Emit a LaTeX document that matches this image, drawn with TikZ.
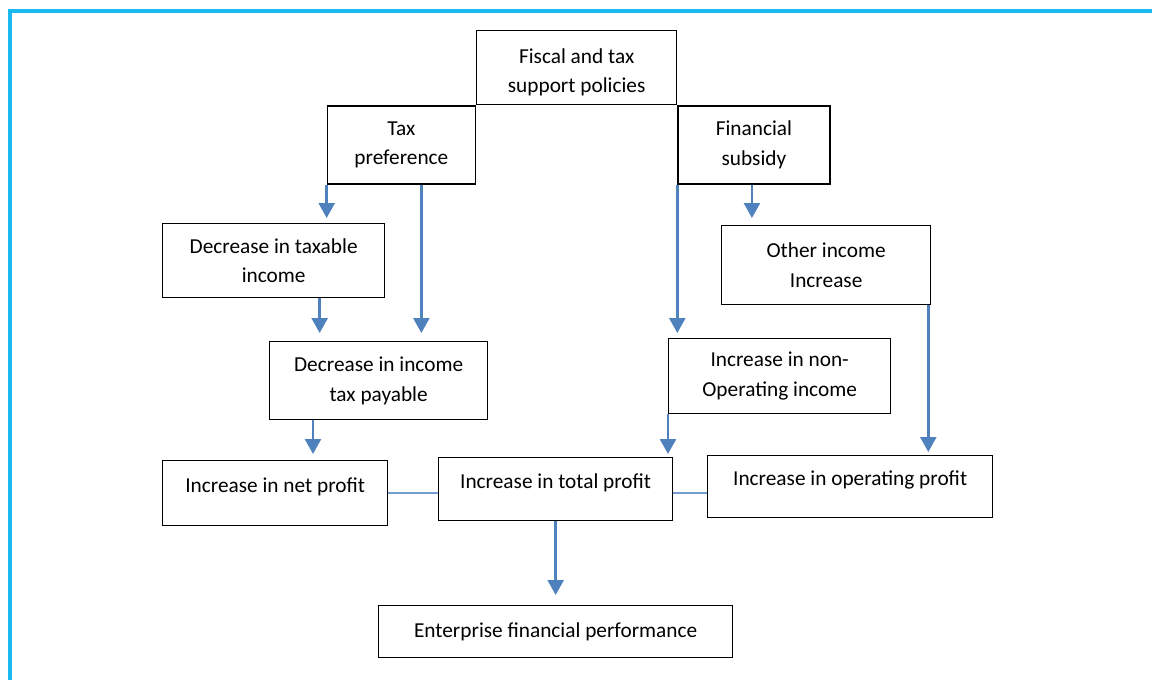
\documentclass[tikz,border=0pt]{standalone}
\usepackage{fontspec}
\setmainfont{Carlito}
\usetikzlibrary{arrows.meta,positioning}
\definecolor{arrowblue}{RGB}{79,129,189}
\definecolor{linkblue}{RGB}{116,158,208}
\definecolor{frameblue}{RGB}{28,186,240}

\begin{document}
\begin{tikzpicture}[x=1pt, y=-1pt]

    % Styles
    \tikzstyle{box} = [rectangle, draw=black, line width=1.3pt, align=center, inner sep=0pt, anchor=north west, font=\fontsize{21.3pt}{29.5pt}\selectfont]
    \tikzstyle{profitbox} = [box, text height=20pt, text depth=22pt]
    \tikzstyle{arrow} = [draw=arrowblue, line width=2.5pt, -{Triangle[width=16pt,length=15pt]}, shorten >=5pt]
    \tikzstyle{link} = [draw=linkblue, line width=1.5pt]

    \useasboundingbox (0,0) rectangle (1152,680);
    \draw [frameblue, line width=3.5pt] (10,680) -- (10,11) -- (1152,11);

    % Nodes
    \node (fiscal) [box, minimum width=200pt, minimum height=74pt] at (476,30) {\rule{0pt}{24pt}Fiscal and tax\\support policies};
    \node (taxpref) [box, anchor=north east, minimum width=148pt, minimum height=78pt] at (fiscal.south west) {Tax\\preference};
    \node (subsidy) [box, minimum width=152pt, minimum height=78pt] at (fiscal.south east) {Financial\\subsidy};

    \node (dtaxable) [box, minimum width=222pt, minimum height=74pt] at (162,223) {Decrease in taxable\\income};
    \node (other) [box, minimum width=209pt, minimum height=79pt] at (721,225) {Other income\\Increase};
    \node (dincome) [box, minimum width=218pt, minimum height=78pt] at (269,341) {Decrease in income\\tax payable};
    \node (nonop) [box, minimum width=222pt, minimum height=75pt] at (668,338) {Increase in non-\\Operating income};

    \node (netprofit) [profitbox, minimum width=225pt, minimum height=65pt] at (162,460) {Increase in net profit};
    \node (totalprofit) [profitbox, minimum width=234pt, minimum height=63pt] at (438,457) {Increase in total profit};
    \node (opprofit) [profitbox, minimum width=285pt, minimum height=62pt] at (707,455) {Increase in operating profit};
    \node (enterprise) [box, minimum width=354pt, minimum height=52pt] at (378,605) {Enterprise financial performance};

    % Arrows
    \draw [arrow] (taxpref.south west) -- (taxpref.south west |- dtaxable.north);
    \draw [arrow, shorten >=8pt] ([xshift=20pt]taxpref.south) -- ([xshift=20pt]taxpref.south |- dincome.north);
    \draw [arrow, shorten >=8pt] ([xshift=46pt]dtaxable.south) -- ([xshift=46pt]dtaxable.south |- dincome.north);
    \draw [arrow, shorten >=6pt] ([xshift=44pt]dincome.south west) -- ([xshift=44pt]dincome.south west |- netprofit.north);
    \draw [arrow] (subsidy.south west) -- (subsidy.south west |- nonop.north);
    \draw [arrow, shorten >=7pt] ([xshift=-2pt]subsidy.south) -- ([xshift=-2pt]subsidy.south |- other.north);
    \draw [arrow, shorten >=3pt] ([xshift=-3pt]other.south east) -- ([xshift=-3pt]other.south east |- opprofit.north);
    \draw [arrow, shorten >=3pt] (nonop.south west) -- (nonop.south west |- totalprofit.north);
    \draw [arrow, shorten >=10pt] (totalprofit.south) -- (enterprise.north);

    % Links
    \draw [link] (netprofit.east) -- (netprofit.east -| totalprofit.west);
    \draw [link] (totalprofit.east |- netprofit.east) -- (opprofit.west |- netprofit.east);

\end{tikzpicture}
\end{document}
